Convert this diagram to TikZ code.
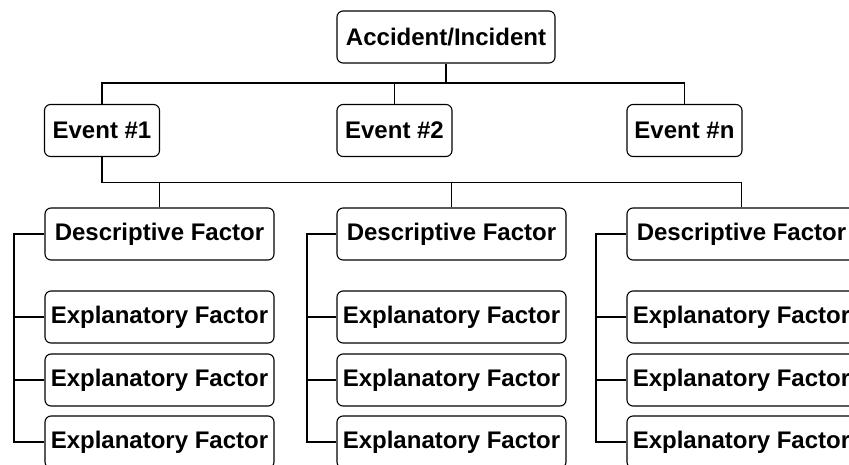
\documentclass[tikz,border=0pt]{standalone}
\usepackage{fontspec}
\setmainfont{Liberation Sans}
\begin{document}
\begin{tikzpicture}[x=1pt,y=1pt,
  box/.style={draw, line width=1.1pt, rounded corners=6pt, inner sep=0pt,
    minimum height=52pt, font=\fontsize{24}{26}\selectfont\bfseries},
  ev/.style={box, minimum width=115pt},
  fac/.style={box, minimum width=229pt},
  conn/.style={line width=1.1pt}]
\useasboundingbox (0,0) rectangle (849,-464);
\clip (0,0) rectangle (849,-464);
% top
\node[box, minimum width=218pt] (acc) at (446,-37) {Accident/Incident};
\node[ev] (e1) at (102,-130.5) {Event \#1};
\node[ev] (e2) at (394.5,-130.5) {Event \#2};
\node[ev] (en) at (684.5,-130.5) {Event \#n};
\coordinate (bus1) at (0,-83);
\coordinate (bus2) at (0,-182.5);
\draw[conn] (acc.south) -- (acc.south |- bus1);
\draw[conn] (e1.north) -- (e1.north |- bus1) -- (en.north |- bus1) -- (en.north);
\draw[conn] (e2.north) -- (e2.north |- bus1);
% factor columns
\foreach \c/\cx/\bx in {1/159.5/14, 2/451.5/307, 3/741.5/596} {
  \node[fac] (d\c) at (\cx,-234) {Descriptive Factor};
  \node[fac] (x\c a) at (\cx,-317) {Explanatory Factor};
  \node[fac] (x\c b) at (\cx,-380) {Explanatory Factor};
  \node[fac] (x\c c) at (\cx,-442) {Explanatory Factor};
  \coordinate (br\c) at (\bx,0);
  \draw[conn] (d\c.west) -- (d\c.west -| br\c) -- (x\c c.west -| br\c) -- (x\c c.west);
  \draw[conn] (x\c a.west -| br\c) -- (x\c a.west);
  \draw[conn] (x\c b.west -| br\c) -- (x\c b.west);
  \draw[conn] (d\c.north) -- (d\c.north |- bus2);
}
\draw[conn] (e1.south) -- (e1.south |- bus2) -- (d3.north |- bus2);
\end{tikzpicture}
\end{document}
